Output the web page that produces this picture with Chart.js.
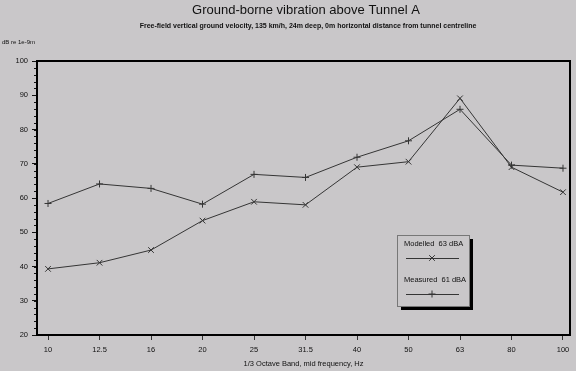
<!DOCTYPE html>
<html><head><meta charset="utf-8">
<script src="https://cdn.jsdelivr.net/npm/chart.js@4/dist/chart.umd.min.js"></script>
<style>html,body{margin:0;padding:0;background:#c9c7c9;}#wrap{width:576px;height:371px;}</style>
</head><body><div id="wrap"><canvas id="c" width="576" height="371"></canvas></div>
<script>
const categories = ["10","12.5","16","20","25","31.5","40","50","63","80","100"];
const modelled = [39.3, 41.1, 44.8, 53.4, 58.9, 58.0, 69.0, 70.6, 89.1, 69.0, 61.7];
const measured = [58.4, 64.1, 62.8, 58.2, 66.9, 66.0, 71.9, 76.7, 85.9, 69.6, 68.7];
const yTicks = [20,30,40,50,60,70,80,90,100];
const titleText = "Ground-borne vibration above Tunnel A";
const subtitleText = "Free-field vertical ground velocity, 135 km/h, 24m deep, 0m horizontal distance from tunnel centreline";
const yLabel = "dB re 1e-9m";
const xLabel = "1/3 Octave Band, mid frequency, Hz";
const legendLabels = ["Modelled  63 dBA", "Measured  61 dBA"];

const FONT = "'Liberation Sans', Arial, Helvetica, sans-serif";
const BG = "#c9c7c9";
const LINE = "#353535";

const toXY = arr => arr.map((v,i)=>({x:i,y:v}));

const decor = {
  id:'decor',
  beforeDraw(chart){
    const ctx=chart.ctx; ctx.save(); ctx.fillStyle=BG; ctx.fillRect(0,0,chart.width,chart.height); ctx.restore();
  },
  afterDraw(chart){
    const ctx=chart.ctx, a=chart.chartArea, ys=chart.scales.y;
    ctx.save();
    ctx.fillStyle='#111'; ctx.textAlign='center'; ctx.textBaseline='middle';
    ctx.font="13px "+FONT; ctx.fillText(titleText, 306, 10);
    ctx.font="bold 7px "+FONT; ctx.fillText(subtitleText, 308, 26);
    ctx.textAlign='left'; ctx.font="6px "+FONT; ctx.fillText(yLabel, 2, 42);
    ctx.strokeStyle='#111'; ctx.lineWidth=1;
    for(let v=20; v<=100; v+=2){
      const p=Math.round(ys.getPixelForValue(v))+0.5;
      ctx.beginPath(); ctx.moveTo(a.left-3,p); ctx.lineTo(a.left,p); ctx.stroke();
    }
    ctx.lineWidth=2; ctx.strokeStyle='#000';
    ctx.strokeRect(a.left, a.top, a.right-a.left, a.bottom-a.top);
    const bx=397, by=235, bw=72, bh=71;
    ctx.fillStyle='#000'; ctx.fillRect(bx+4, by+4, bw, bh);
    ctx.fillStyle=BG; ctx.fillRect(bx, by, bw, bh);
    ctx.lineWidth=1; ctx.strokeStyle='#777'; ctx.strokeRect(bx+0.5, by+0.5, bw, bh);
    ctx.fillStyle='#111'; ctx.font="7.5px "+FONT; ctx.textAlign='left'; ctx.textBaseline='middle';
    const ds=chart.data.datasets;
    const rows=[[244,258],[280,294]];
    rows.forEach((r,i)=>{
      ctx.fillText(legendLabels[i], 404, r[0]);
      ctx.strokeStyle=LINE; ctx.lineWidth=1;
      ctx.beginPath(); ctx.moveTo(406, r[1]+0.5); ctx.lineTo(459, r[1]+0.5); ctx.stroke();
      Chart.helpers.drawPoint(ctx, {pointStyle: ds[i].pointStyle, radius: ds[i].pointRadius, borderWidth:1}, 432, r[1]);
    });
    ctx.restore();
  }
};

new Chart(document.getElementById('c'), {
  type:'line',
  data:{ datasets:[
    {label:legendLabels[0], data:toXY(modelled), borderColor:LINE, backgroundColor:'transparent', borderWidth:1, pointStyle:'crossRot', pointRadius:4, pointBorderColor:LINE, pointBorderWidth:1, tension:0},
    {label:legendLabels[1], data:toXY(measured), borderColor:LINE, backgroundColor:'transparent', borderWidth:1, pointStyle:'cross', pointRadius:3.5, pointBorderColor:LINE, pointBorderWidth:1, tension:0}
  ]},
  options:{
    responsive:false, animation:false, devicePixelRatio:1,
    layout:{padding:{top:61,right:6,left:0,bottom:0}},
    plugins:{legend:{display:false}, tooltip:{enabled:false}, title:{display:false}},
    scales:{
      x:{type:'linear', min:-0.214, max:10.136,
        afterBuildTicks(s){ s.ticks = categories.map((c,i)=>({value:i})); },
        afterFit(s){ s.height=36; },
        ticks:{callback:(v)=>categories[v], font:{family:FONT,size:7.5}, color:'#111', padding:5, maxRotation:0, autoSkip:false},
        grid:{drawOnChartArea:false, tickLength:5, color:'#333'},
        border:{display:false},
        title:{display:true, text:xLabel, font:{family:FONT,size:7.5}, color:'#111', padding:{top:2,bottom:3}}
      },
      y:{type:'linear', min:20, max:100,
        afterBuildTicks(s){ s.ticks = yTicks.map(v=>({value:v})); },
        afterFit(s){ s.width=37; },
        ticks:{font:{family:FONT,size:7.5}, color:'#111', padding:4},
        grid:{drawOnChartArea:false, tickLength:5, color:'#111'},
        border:{display:false}
      }
    }
  },
  plugins:[decor]
});
</script></body></html>
